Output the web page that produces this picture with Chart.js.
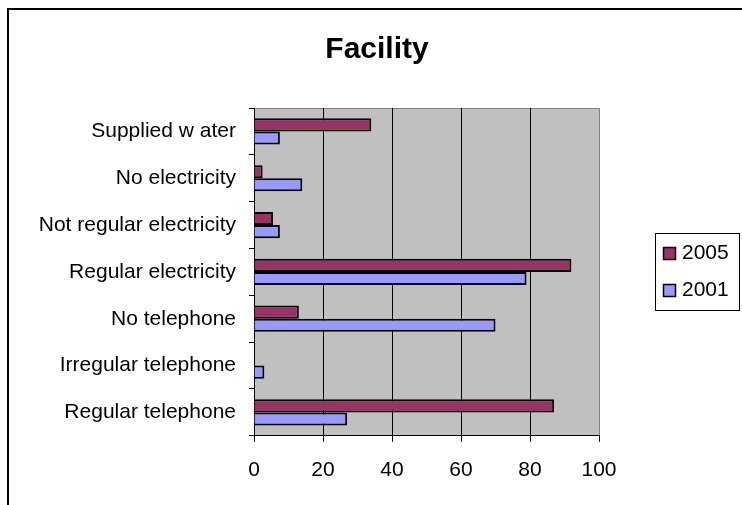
<!DOCTYPE html>
<html>
<head>
<meta charset="utf-8">
<script src="https://cdn.jsdelivr.net/npm/chart.js@4/dist/chart.umd.min.js"></script>
<style>
    body { margin: 0; background: #ffffff; }
    #chart { display: block; }
</style>
</head>
<body>
<canvas id="chart" width="742" height="505"></canvas>
<script>
// Chart data
const categories = ['Supplied w ater', 'No electricity', 'Not regular electricity', 'Regular electricity', 'No telephone', 'Irregular telephone', 'Regular telephone'];
const values2005 = [34, 2.5, 5.5, 92, 13, 0, 87];
const values2001 = [7.5, 14, 7.5, 79, 70, 3, 27];
const xTicks = [0, 20, 40, 60, 80, 100];
const chartTitle = 'Facility';

const FONT = '"Liberation Sans", Arial, sans-serif';

// Background, plot area, title and outer frame
const framePlugin = {
    id: 'frame',
    beforeDraw(chart) {
        const { ctx, chartArea: a } = chart;
        ctx.save();
        ctx.fillStyle = '#ffffff';
        ctx.fillRect(0, 0, chart.width, chart.height);
        ctx.fillStyle = '#c0c0c0';
        ctx.fillRect(a.left, a.top, a.right - a.left, a.bottom - a.top);
        ctx.strokeStyle = '#808080';
        ctx.lineWidth = 1;
        ctx.beginPath();
        ctx.moveTo(a.left, a.top + 0.5);
        ctx.lineTo(a.right + 0.5, a.top + 0.5);
        ctx.lineTo(a.right + 0.5, a.bottom);
        ctx.stroke();
        ctx.restore();
    },
    afterDraw(chart) {
        const ctx = chart.ctx;
        ctx.save();
        ctx.fillStyle = '#000000';
        ctx.font = 'bold 30px ' + FONT;
        ctx.textAlign = 'center';
        ctx.textBaseline = 'middle';
        ctx.fillText(chartTitle, 377, 50);
        ctx.strokeStyle = '#000000';
        ctx.lineWidth = 2;
        ctx.strokeRect(8, 9, 800, 600);
        ctx.restore();
    }
};

// Boxed legend on the right
const boxLegend = {
    id: 'boxLegend',
    afterDraw(chart) {
        const ctx = chart.ctx;
        ctx.save();
        ctx.strokeStyle = '#000000';
        ctx.lineWidth = 1;
        ctx.strokeRect(655.5, 233.5, 84, 77);
        ctx.font = '21px ' + FONT;
        ctx.textBaseline = 'middle';
        ctx.textAlign = 'left';
        chart.data.datasets.forEach((ds, i) => {
            const y = 253 + i * 37;
            ctx.fillStyle = ds.backgroundColor;
            ctx.fillRect(663, y - 6, 13, 13);
            ctx.lineWidth = 1.5;
            ctx.strokeRect(663.5, y - 5.5, 12, 12);
            ctx.fillStyle = '#000000';
            ctx.fillText(ds.label, 682, y);
        });
        ctx.restore();
    }
};

new Chart(document.getElementById('chart'), {
    type: 'bar',
    data: {
        labels: categories,
        datasets: [
            {
                label: '2005',
                data: values2005,
                backgroundColor: '#993366',
                borderColor: '#000000',
                borderWidth: 2,
                categoryPercentage: 0.56,
                barPercentage: 1
            },
            {
                label: '2001',
                data: values2001,
                backgroundColor: '#9999ff',
                borderColor: '#000000',
                borderWidth: 2,
                categoryPercentage: 0.56,
                barPercentage: 1
            }
        ]
    },
    options: {
        indexAxis: 'y',
        responsive: false,
        animation: false,
        devicePixelRatio: 1,
        layout: {
            padding: { top: 108, right: 143, bottom: 6, left: 0 }
        },
        plugins: {
            legend: { display: false },
            tooltip: { enabled: false },
            title: { display: false }
        },
        scales: {
            x: {
                min: 0,
                max: 100,
                afterBuildTicks(scale) {
                    scale.ticks = xTicks.map(v => ({ value: v }));
                },
                grid: {
                    color: ctx => (ctx.tick && ctx.tick.value === 100 ? '#808080' : '#000000'),
                    tickColor: '#000000',
                    tickLength: 6,
                    lineWidth: 1
                },
                border: { color: '#000000', width: 1 },
                ticks: {
                    color: '#000000',
                    padding: 16,
                    font: { family: FONT, size: 21 }
                }
            },
            y: {
                afterFit(scale) {
                    scale.width = 254;
                },
                grid: {
                    drawOnChartArea: false,
                    color: '#000000',
                    tickLength: 5
                },
                border: { color: '#000000', width: 1 },
                ticks: {
                    color: '#000000',
                    padding: 13,
                    font: { family: FONT, size: 21 }
                }
            }
        }
    },
    plugins: [framePlugin, boxLegend]
});
</script>
</body>
</html>
